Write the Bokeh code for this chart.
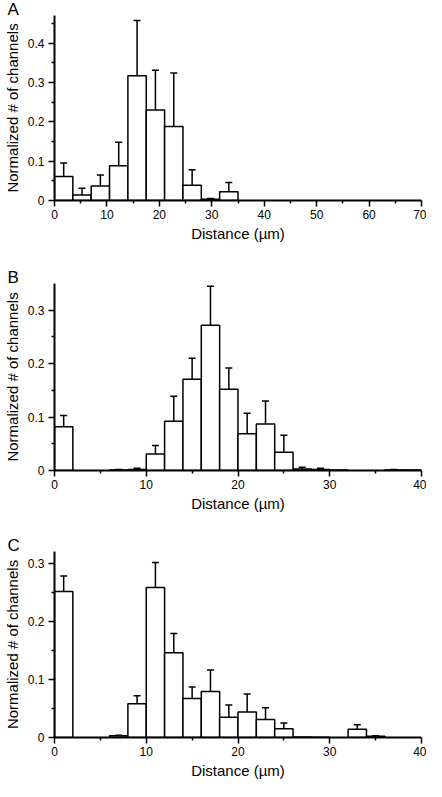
from bokeh.plotting import figure
from bokeh.layouts import column
from bokeh.models import Range1d, FixedTicker, NumeralTickFormatter, ColumnDataSource, Title
from bokeh.embed import file_html
from bokeh.resources import INLINE

# ---------------- data ----------------
A_bin_left = [0, 3.5, 7, 10.5, 14, 17.5, 21, 24.5, 28, 31.5]
A_bin_width = 3.5
A_vals = [0.061, 0.014, 0.037, 0.088, 0.317, 0.230, 0.188, 0.039, 0.003, 0.022]
A_err_top = [0.095, 0.031, 0.065, 0.148, 0.457, 0.331, 0.324, 0.078, 0.005, 0.046]

B_bin_left = [0, 2, 4, 6, 8, 10, 12, 14, 16, 18, 20, 22, 24, 26, 28, 30, 32, 34, 36, 38]
B_bin_width = 2
B_vals = [0.082, 0, 0, 0.001, 0.002, 0.031, 0.092, 0.171, 0.272, 0.152, 0.069, 0.087, 0.034, 0.003, 0.002, 0.001, 0, 0, 0.001, 0.001]
B_err_top = [0.103, 0, 0, 0.002, 0.004, 0.047, 0.139, 0.210, 0.345, 0.192, 0.107, 0.130, 0.066, 0.006, 0.004, 0.001, 0, 0, 0.002, 0.001]

C_bin_left = [0, 2, 4, 6, 8, 10, 12, 14, 16, 18, 20, 22, 24, 26, 28, 30, 32, 34, 36, 38]
C_bin_width = 2
C_vals = [0.251, 0, 0, 0.003, 0.058, 0.258, 0.146, 0.067, 0.079, 0.035, 0.044, 0.031, 0.015, 0.001, 0.0005, 0, 0.014, 0.002, 0, 0]
C_err_top = [0.278, 0, 0, 0.004, 0.072, 0.301, 0.179, 0.087, 0.116, 0.056, 0.075, 0.051, 0.025, 0.001, 0.0005, 0, 0.022, 0.003, 0, 0]

A_xticks = [0, 10, 20, 30, 40, 50, 60, 70]
A_xminor = [5, 15, 25, 35, 45, 55, 65]
BC_xticks = [0, 10, 20, 30, 40]
BC_xminor = [5, 15, 25, 35]
A_yticks = [0, 0.1, 0.2, 0.3, 0.4]
A_yminor = [0.05, 0.15, 0.25, 0.35, 0.45]
B_yticks = [0, 0.1, 0.2, 0.3]
B_yminor = [0.05, 0.15, 0.25]
C_yticks = [0, 0.1, 0.2, 0.3]
C_yminor = [0.05, 0.15, 0.25]

panels = [
    dict(letter="A", left=A_bin_left, w=A_bin_width, vals=A_vals, err=A_err_top,
         xmax=70, ymax=0.47, xt=A_xticks, xm=A_xminor, yt=A_yticks, ym=A_yminor,
         height=268, top=12, bottom=68),
    dict(letter="B", left=B_bin_left, w=B_bin_width, vals=B_vals, err=B_err_top,
         xmax=40, ymax=0.35, xt=BC_xticks, xm=BC_xminor, yt=B_yticks, ym=B_yminor,
         height=268, top=12, bottom=66),
    dict(letter="C", left=C_bin_left, w=C_bin_width, vals=C_vals, err=C_err_top,
         xmax=40, ymax=0.32, xt=BC_xticks, xm=BC_xminor, yt=C_yticks, ym=C_yminor,
         height=245, top=14, bottom=44),
]

FONT = "Liberation Sans"
figs = []
for pan in panels:
    p = figure(width=426, height=pan["height"], output_backend="svg", toolbar_location=None,
               x_range=Range1d(0, pan["xmax"]), y_range=Range1d(0, pan["ymax"]),
               min_border_left=48, min_border_right=5,
               min_border_top=pan["top"], min_border_bottom=pan["bottom"])
    p.outline_line_color = None
    p.xgrid.visible = False
    p.ygrid.visible = False

    lefts = [l for l, v in zip(pan["left"], pan["vals"]) if v > 0]
    vals = [v for v in pan["vals"] if v > 0]
    rights = [l + pan["w"] for l in lefts]
    src = ColumnDataSource(dict(left=lefts, right=rights, top=vals, bottom=[0] * len(vals)))
    p.quad(left="left", right="right", top="top", bottom="bottom", source=src,
           fill_color="white", line_color="black", line_width=1.5)

    cx = [l + pan["w"] / 2 for l, v, e in zip(pan["left"], pan["vals"], pan["err"]) if e > v]
    y0 = [v for v, e in zip(pan["vals"], pan["err"]) if e > v]
    y1 = [e for v, e in zip(pan["vals"], pan["err"]) if e > v]
    p.segment(x0=cx, x1=cx, y0=y0, y1=y1, line_color="black", line_width=1.5)
    p.dash(x=cx, y=y1, size=7, line_color="black", line_width=1.5)

    for ax in (p.xaxis[0], p.yaxis[0]):
        ax.axis_line_width = 2
        ax.axis_line_color = "black"
        ax.major_tick_line_width = 1.5
        ax.minor_tick_line_width = 1.5
        ax.major_tick_in = 0
        ax.major_tick_out = 6
        ax.minor_tick_in = 0
        ax.minor_tick_out = 3
        ax.major_label_text_font = FONT
        ax.major_label_text_font_size = "12px"
        ax.major_label_text_color = "black"
        ax.axis_label_text_font = FONT
        ax.axis_label_text_font_size = "15px"
        ax.axis_label_text_font_style = "normal"
        ax.axis_label_text_color = "black"
        ax.major_label_standoff = 4
        ax.axis_label_standoff = 4

    p.xaxis.ticker = FixedTicker(ticks=pan["xt"], minor_ticks=pan["xm"])
    p.yaxis.ticker = FixedTicker(ticks=pan["yt"], minor_ticks=pan["ym"])
    p.yaxis.formatter = NumeralTickFormatter(format="0.[0]")
    p.xaxis.axis_label = "Distance (µm)"
    p.yaxis.axis_label = "Normalized # of channels"
    p.xaxis.axis_label_standoff = 3
    p.xaxis.major_label_standoff = 3

    p.title = Title(text=pan["letter"], align="left", offset=-47, text_font=FONT,
                    text_font_size="17px", text_font_style="normal", text_color="black",
                    standoff=-6)
    figs.append(p)

layout = column(*figs, spacing=0)
open("out.html", "w").write(file_html(layout, INLINE))
